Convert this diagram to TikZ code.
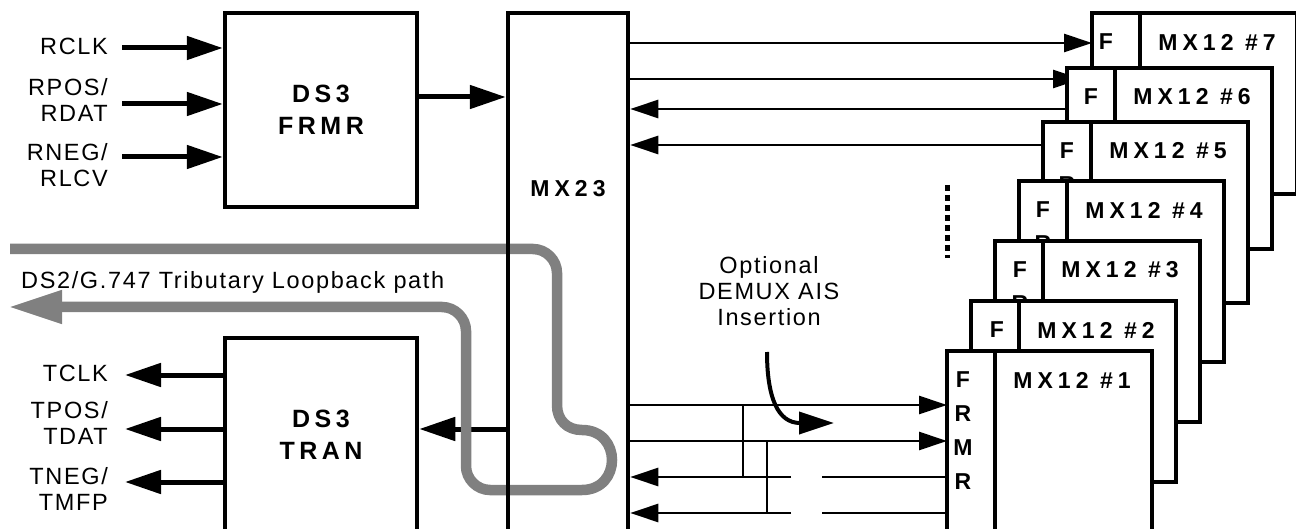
\documentclass[tikz,border=0pt]{standalone}
\usepackage{fontspec}
\setmainfont{Liberation Sans}
\newfontfamily\spacedfont[LetterSpace=7]{Liberation Sans}
\newfontfamily\widefont[LetterSpace=22]{Liberation Sans}
\newfontfamily\blockwide[LetterSpace=18]{Liberation Sans}
\usetikzlibrary{arrows.meta,calc}

\definecolor{loopgray}{HTML}{808080}

\newcommand{\sigfont}{\spacedfont\fontsize{23.5}{26}\selectfont}
\newcommand{\blockfont}{\blockwide\bfseries\fontsize{25}{32}\selectfont}
\newcommand{\namefont}{\widefont\bfseries\fontsize{23}{25}\selectfont}

\pgfdeclarelayer{back}
\pgfdeclarelayer{front}
\pgfsetlayers{back,main,front}

\begin{document}
\begin{tikzpicture}[x=1pt, y=-1pt,
    blockbox/.style={draw, line width=4.5pt, inner sep=0pt, align=center, font=\blockfont,
        minimum width=192pt, minimum height=194pt},
    mxbox/.style={draw, fill=white, line width=4.5pt, inner sep=0pt, outer sep=0pt,
        minimum width=205pt, minimum height=181pt, anchor=north west},
    sig/.style={align=right, anchor=east, inner sep=0pt, font=\sigfont},
    note/.style={align=center, inner sep=0pt, font=\sigfont},
    bold/.style={inner sep=0pt, font=\namefont},
    bigarrow/.style={line width=5pt, -{Triangle[length=36pt,width=23pt]}},
    busarrow/.style={line width=2.6pt, -{Triangle[length=28pt,width=18pt]}},
    busline/.style={line width=2.6pt},
    loopback/.style={draw=loopgray, line width=10.5pt, -{Triangle[length=54pt,width=31pt]}}]

    \useasboundingbox (0,0) rectangle (1296,529);

    % DS3 blocks and the MX23
    \node[blockbox] (frmr) at (321,110) {DS3\\FRMR};
    \node[blockbox] (tran) at (321,435) {DS3\\TRAN};
    \begin{pgfonlayer}{front}
        \node[draw, line width=4.5pt, inner sep=0pt, minimum width=120pt, minimum height=519pt] (mx23) at (568,272.5) {};
        \node[bold] (mx23txt) at (568,189) {MX23};
    \end{pgfonlayer}

    % line side signals
    \node[sig] (rclk) at (108,46) {RCLK};
    \node[sig] (rpos) at (108,100) {RPOS/\\RDAT};
    \node[sig] (rneg) at (108,165) {RNEG/\\RLCV};
    \node[sig] (tclk) at (108,373) {TCLK};
    \node[sig] (tpos) at (108,423) {TPOS/\\TDAT};
    \node[sig] (tneg) at (108,489) {TNEG/\\TMFP};

    \foreach \y in {48,104,157} {
        \draw[bigarrow] (122,\y) -- (frmr.west |- 0,\y);
    }
    \foreach \y in {375,429,482} {
        \draw[bigarrow] (tran.west |- 0,\y) -- (125,\y);
    }
    \draw[bigarrow] (frmr.east |- 0,97) -- (mx23.west |- 0,97);

    % MX12 stack, back to front
    \foreach \i/\x/\y/\f in {7/1092/13/14, 6/1067/68/24, 5/1043/122/24, 4/1019/181/24,
                             3/995/241/25, 2/971/301/26, 1/947/351/16} {
        \node[mxbox] (mx\i) at (\x,\y) {};
        \draw[line width=4.5pt] (\x+48,\y) -- (\x+48,\y+181);
        \foreach \l [count=\j] in {F,R,M,R} {
            \node[bold] (f\i\j) at (\x+\f,\y+29+34*\j-34) {\l};
        }
        \node[bold] (name\i) at (\x+125,\y+29) {MX12 \#\i};
    }

    % tributary buses
    \begin{pgfonlayer}{back}
        \draw[bigarrow] (mx23.west |- 0,429) -- (tran.east |- 0,429);
        \draw[busarrow] (mx23.east |- 0,43) -- (mx7.west |- 0,43);
        \draw[busarrow] (mx23.east |- 0,79) -- ($(mx6.west |- 0,79)+(14,0)$);
        \draw[busarrow] (mx6.west |- 0,109) -- (mx23.east |- 0,109);
        \draw[busarrow] (mx5.west |- 0,145) -- (mx23.east |- 0,145);
        \foreach \y in {405,441} {
            \draw[busarrow] (mx23.east |- 0,\y) -- (mx1.west |- 0,\y);
        }
        \foreach \y in {477,513} {
            \draw[busarrow, dash pattern=on 125pt off 31pt on 400pt] (mx1.west |- 0,\y) -- (mx23.east |- 0,\y);
        }
    \end{pgfonlayer}
    \draw[busline] (743,405) -- (743,477);
    \draw[busline] (767,441) -- (767,513);

    % more MX12 in between
    \draw[line width=5pt, dash pattern=on 6pt off 4pt] (947,185) -- (947,258);

    % AIS insertion
    \node[note] (ais) at (769,291) {Optional\\DEMUX AIS\\Insertion};
    \draw[line width=4pt, -{Triangle[length=35pt,width=22pt]}] (767,352) .. controls (767,398) and (778,423) .. (834,423);

    % loopback path
    \draw[loopback] (10,249) -- (533,249) .. controls (546,249) and (557,260) .. (557,273)
        -- (557,405) .. controls (557,420) and (567,430) .. (582,430)
        .. controls (622,430) and (622,490) .. (582,490) -- (490,490)
        .. controls (477,490) and (466,479) .. (466,466) -- (466,331)
        .. controls (466,318) and (455,307) .. (442,307) -- (8,307);
    \node[font=\sigfont, inner sep=0pt, anchor=base west] (looptxt) at (21,289) {DS2/G.747 Tributary Loopback path};
\end{tikzpicture}
\end{document}
